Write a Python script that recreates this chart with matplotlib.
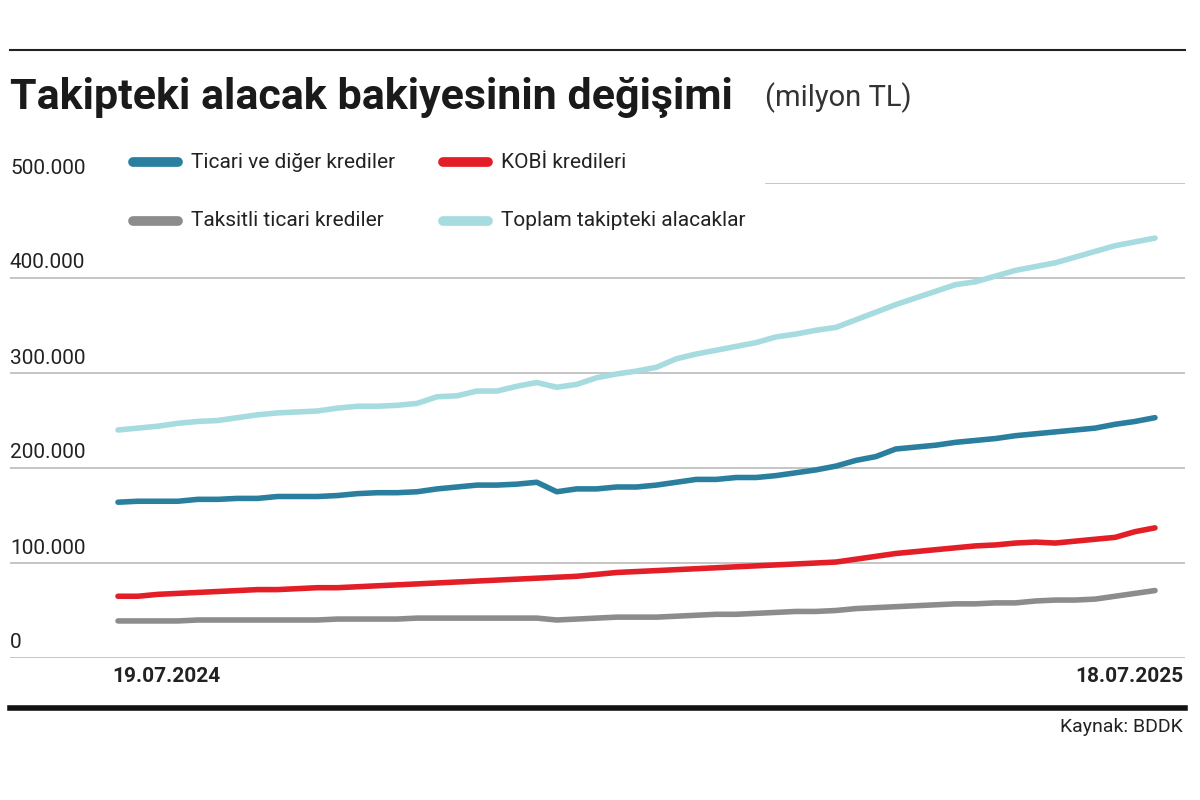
import matplotlib
matplotlib.use("Agg")
import matplotlib.pyplot as plt
import numpy as np

toplam = [240,242,244,247,249,250,253,256,258,259,260,263,265,265,266,268,275,276,281,281,
          286,290,285,288,295,299,302,306,315,320,324,328,332,338,341,345,348,356,364,372,
          379,386,393,396,402,408,412,416,422,428,434,438,442]
ticari = [164,165,165,165,167,167,168,168,170,170,170,171,173,174,174,175,178,180,182,182,
          183,185,175,178,178,180,180,182,185,188,188,190,190,192,195,198,202,208,212,220,
          222,224,227,229,231,234,236,238,240,242,246,249,253]
kobi = [65,65,67,68,69,70,71,72,72,73,74,74,75,76,77,78,79,80,81,82,
        83,84,85,86,88,90,91,92,93,94,95,96,97,98,99,100,101,104,107,110,
        112,114,116,118,119,121,122,121,123,125,127,133,137]
taksitli = [39,39,39,39,40,40,40,40,40,40,40,41,41,41,41,42,42,42,42,42,
            42,42,40,41,42,43,43,43,44,45,46,46,47,48,49,49,50,52,53,54,
            55,56,57,57,58,58,60,61,61,62,65,68,71]
yticks = [0, 100, 200, 300, 400, 500]
ylabels = ["0", "100.000", "200.000", "300.000", "400.000", "500.000"]
date_labels = ["19.07.2024", "18.07.2025"]
series = [("Ticari ve diğer krediler", ticari, "#2a7f9e"),
          ("KOBİ kredileri", kobi, "#e41e26"),
          ("Taksitli ticari krediler", taksitli, "#8c8c8c"),
          ("Toplam takipteki alacaklar", toplam, "#a6dbe0")]

plt.rcParams["font.family"] = "Roboto"
fig = plt.figure(figsize=(12, 8), dpi=100)
W, H = 1200, 800
ax = fig.add_axes([10/W, 1-658/H, 1175/W, 475/H])
x = np.arange(len(toplam))
step = (1155-118)/52
ax.set_xlim(-108/step, 52 + 30/step)
ax.set_ylim(0, 500)
for t in yticks:
    xmin = 0.643 if t == 500 else 0
    ax.axhline(t, xmin=xmin, color="#bbbbbb", lw=1.2, zorder=0)
for name, vals, c in series:
    ax.plot(x, vals, color=c, lw=4, solid_capstyle="round")
ax.axis("off")

for t, lab in zip(yticks, ylabels):
    ypx = 658 - t*0.95 - 15
    fig.text(10/W, 1-ypx/H, lab, fontsize=15, color="#222222", va="center", ha="left")
fig.text(112/W, 1-677/H, date_labels[0], fontsize=15, fontweight="bold", color="#222222", va="center")
fig.text(1183/W, 1-677/H, date_labels[1], fontsize=15, fontweight="bold", color="#222222", va="center", ha="right")

pos = [(133, 162), (443, 162), (133, 221), (443, 221)]
for (px, py), (name, vals, c) in zip(pos, series):
    fig.add_artist(plt.Line2D([px/W, (px+45)/W], [1-py/H, 1-py/H], color=c, lw=7, solid_capstyle="round"))
    fig.text((px+58)/W, 1-py/H, name, fontsize=15, color="#222222", va="center")

fig.text(10/W, 1-98/H, "Takipteki alacak bakiyesinin değişimi", fontsize=31, fontweight="bold", color="#1a1a1a", va="center")
fig.text(765/W, 1-98/H, "(milyon TL)", fontsize=21, color="#333333", va="center")
fig.add_artist(plt.Line2D([10/W, 1185/W], [1-50/H, 1-50/H], color="#222222", lw=1.5))
fig.add_artist(plt.Line2D([10/W, 1185/W], [1-708/H, 1-708/H], color="#111111", lw=4))
fig.text(1183/W, 1-727/H, "Kaynak: BDDK", fontsize=14, color="#222222", va="center", ha="right")
fig.savefig("out.png", dpi=100, facecolor="white")
